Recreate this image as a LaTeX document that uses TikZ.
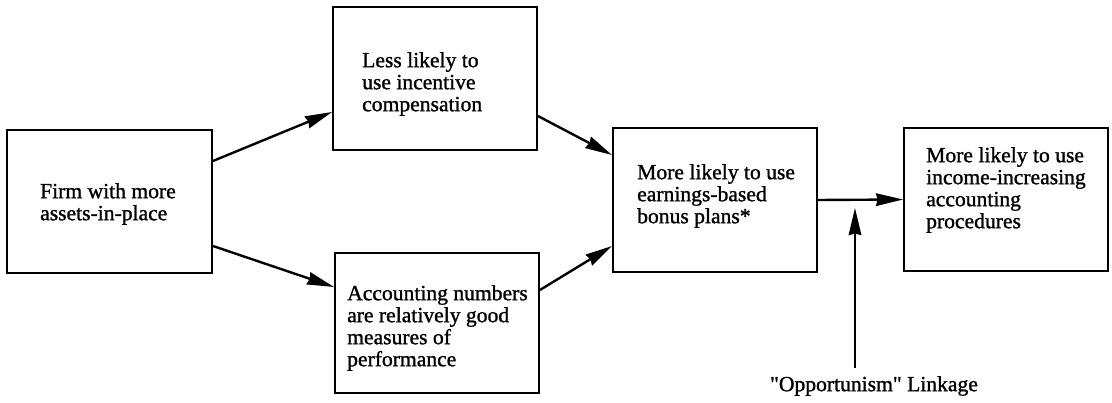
\documentclass[tikz,border=0pt]{standalone}
\usepackage{fontspec}
\setmainfont{Liberation Serif}[FakeBold=1.2]
\newfontfamily\qfont{Liberation Serif}[FakeBold=1.2,Ligatures=TeXOff]
\usetikzlibrary{arrows.meta}
\tikzset{
  box/.style={draw=black, line width=1.9pt, inner sep=0pt, fill=none},
  txt/.style={anchor=north west, inner sep=0pt, align=left, font=\fontsize{21.6}{22}\selectfont},
  conn/.style={line width=2.4pt, -{Stealth[length=27pt,width=12.5pt,inset=1.5pt]}}
}
\begin{document}
\begin{tikzpicture}[x=1pt,y=-1pt]
\useasboundingbox (0,0) rectangle (1112,403);
% boxes
\node[box, minimum width=205pt, minimum height=143pt] (A) at (109.5,201.5) {};
\node[box, minimum width=204pt, minimum height=143pt] (B) at (435,78.5) {};
\node[box, minimum width=204pt, minimum height=140pt] (C) at (437,323) {};
\node[box, minimum width=204pt, minimum height=144pt] (D) at (715,200) {};
\node[box, minimum width=204pt, minimum height=143pt] (E) at (1006,199.5) {};
% texts
\node[txt] (tA) at (40,183) {Firm with more\\assets-in-place};
\node[txt] (tB) at (362,52) {Less likely to\\use incentive\\compensation};
\node[txt] (tC) at (347,285) {Accounting numbers\\are relatively good\\measures of\\performance};
\node[txt] (tD) at (637,164) {More likely to use\\earnings-based\\bonus plans*};
\node[txt] (tE) at (926,147) {More likely to use\\income-increasing\\accounting\\procedures};
\node[inner sep=0pt, font=\qfont\fontsize{21.6}{22}\selectfont] (opp) at (874,386) {"Opportunism" Linkage};
\coordinate (oppstart) at (855,368);
\coordinate (oppend) at (855,208);
% connectors
\draw[conn] ([yshift=40.5pt]A.east) -- ([yshift=-33.5pt]B.west);
\draw[conn] ([yshift=-44.5pt]A.east) -- ([yshift=36pt]C.west);
\draw[conn] ([yshift=-37.5pt]B.east) -- ([yshift=45pt]D.west);
\draw[conn] ([yshift=33pt]C.east) -- ([yshift=-46pt]D.west);
\draw[conn] (D.east) -- (E.west);
\draw[conn] (oppstart) -- (oppend);
\end{tikzpicture}
\end{document}
